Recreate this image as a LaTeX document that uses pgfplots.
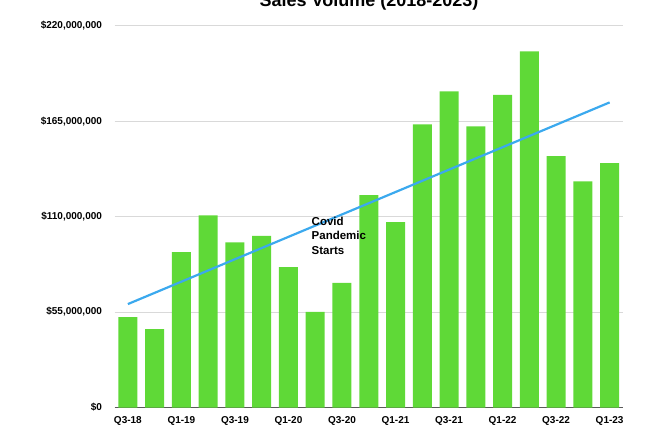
\documentclass[border=0pt]{standalone}
\usepackage{pgfplots}
\pgfplotsset{compat=1.18}
\usepackage{fontspec}
\setmainfont{Liberation Sans}

\definecolor{bargreen}{HTML}{5FD937}
\definecolor{trendblue}{HTML}{3BA9EE}
\definecolor{gridgray}{HTML}{D9D9D9}

\begin{document}
\begin{tikzpicture}[x=1pt,y=1pt]
\useasboundingbox (0,0) rectangle (670,432);
\clip (0,0) rectangle (670,432);
\begin{axis}[
    at={(114.5pt,24.5pt)}, anchor=south west,
    scale only axis, width=508.5pt, height=381.8pt,
    xmin=0.5, xmax=19.5, ymin=0, ymax=220000000,
    axis x line*=bottom, axis y line*=left,
    x axis line style={draw=black!65, line width=1.2pt, -},
    y axis line style={draw=none},
    xtick={1,3,5,7,9,11,13,15,17,19},
    xticklabels={Q3-18,Q1-19,Q3-19,Q1-20,Q3-20,Q1-21,Q3-21,Q1-22,Q3-22,Q1-23},
    xticklabel style={font=\fontsize{10}{11}\selectfont\bfseries, yshift=-5pt},
    ytick={0,55000000,110000000,165000000,220000000},
    yticklabels={{\$0},{\$55,000,000},{\$110,000,000},{\$165,000,000},{\$220,000,000}},
    scaled y ticks=false,
    yticklabel style={font=\fontsize{10}{11}\selectfont\bfseries, xshift=-9pt},
    ymajorgrids, grid style={draw=gridgray, line width=0.8pt},
    major tick length=0pt,
    clip=false,
]
\addplot[ybar, bar width=19pt, fill=bargreen, draw=none] coordinates {
    (1,52100000) (2,45100000) (3,89500000) (4,110700000) (5,95100000)
    (6,98900000) (7,80900000) (8,55100000) (9,71800000) (10,122400000)
    (11,106800000) (12,163200000) (13,182200000) (14,162000000) (15,180100000)
    (16,205200000) (17,144900000) (18,130300000) (19,140800000)
};
\addplot[trendblue, line width=2.2pt] coordinates {
    (1,59600000) (19,175800000)
};
\end{axis}
\node[anchor=base, font=\fontsize{18}{20}\selectfont\bfseries] at (369,425.5) {Sales Volume (2018-2023)};
\node[anchor=north west, align=left, inner sep=0pt, font=\fontsize{11.5}{14.7}\selectfont\bfseries] at (311.5,215.5) {Covid\\Pandemic\\Starts};
\end{tikzpicture}
\end{document}
